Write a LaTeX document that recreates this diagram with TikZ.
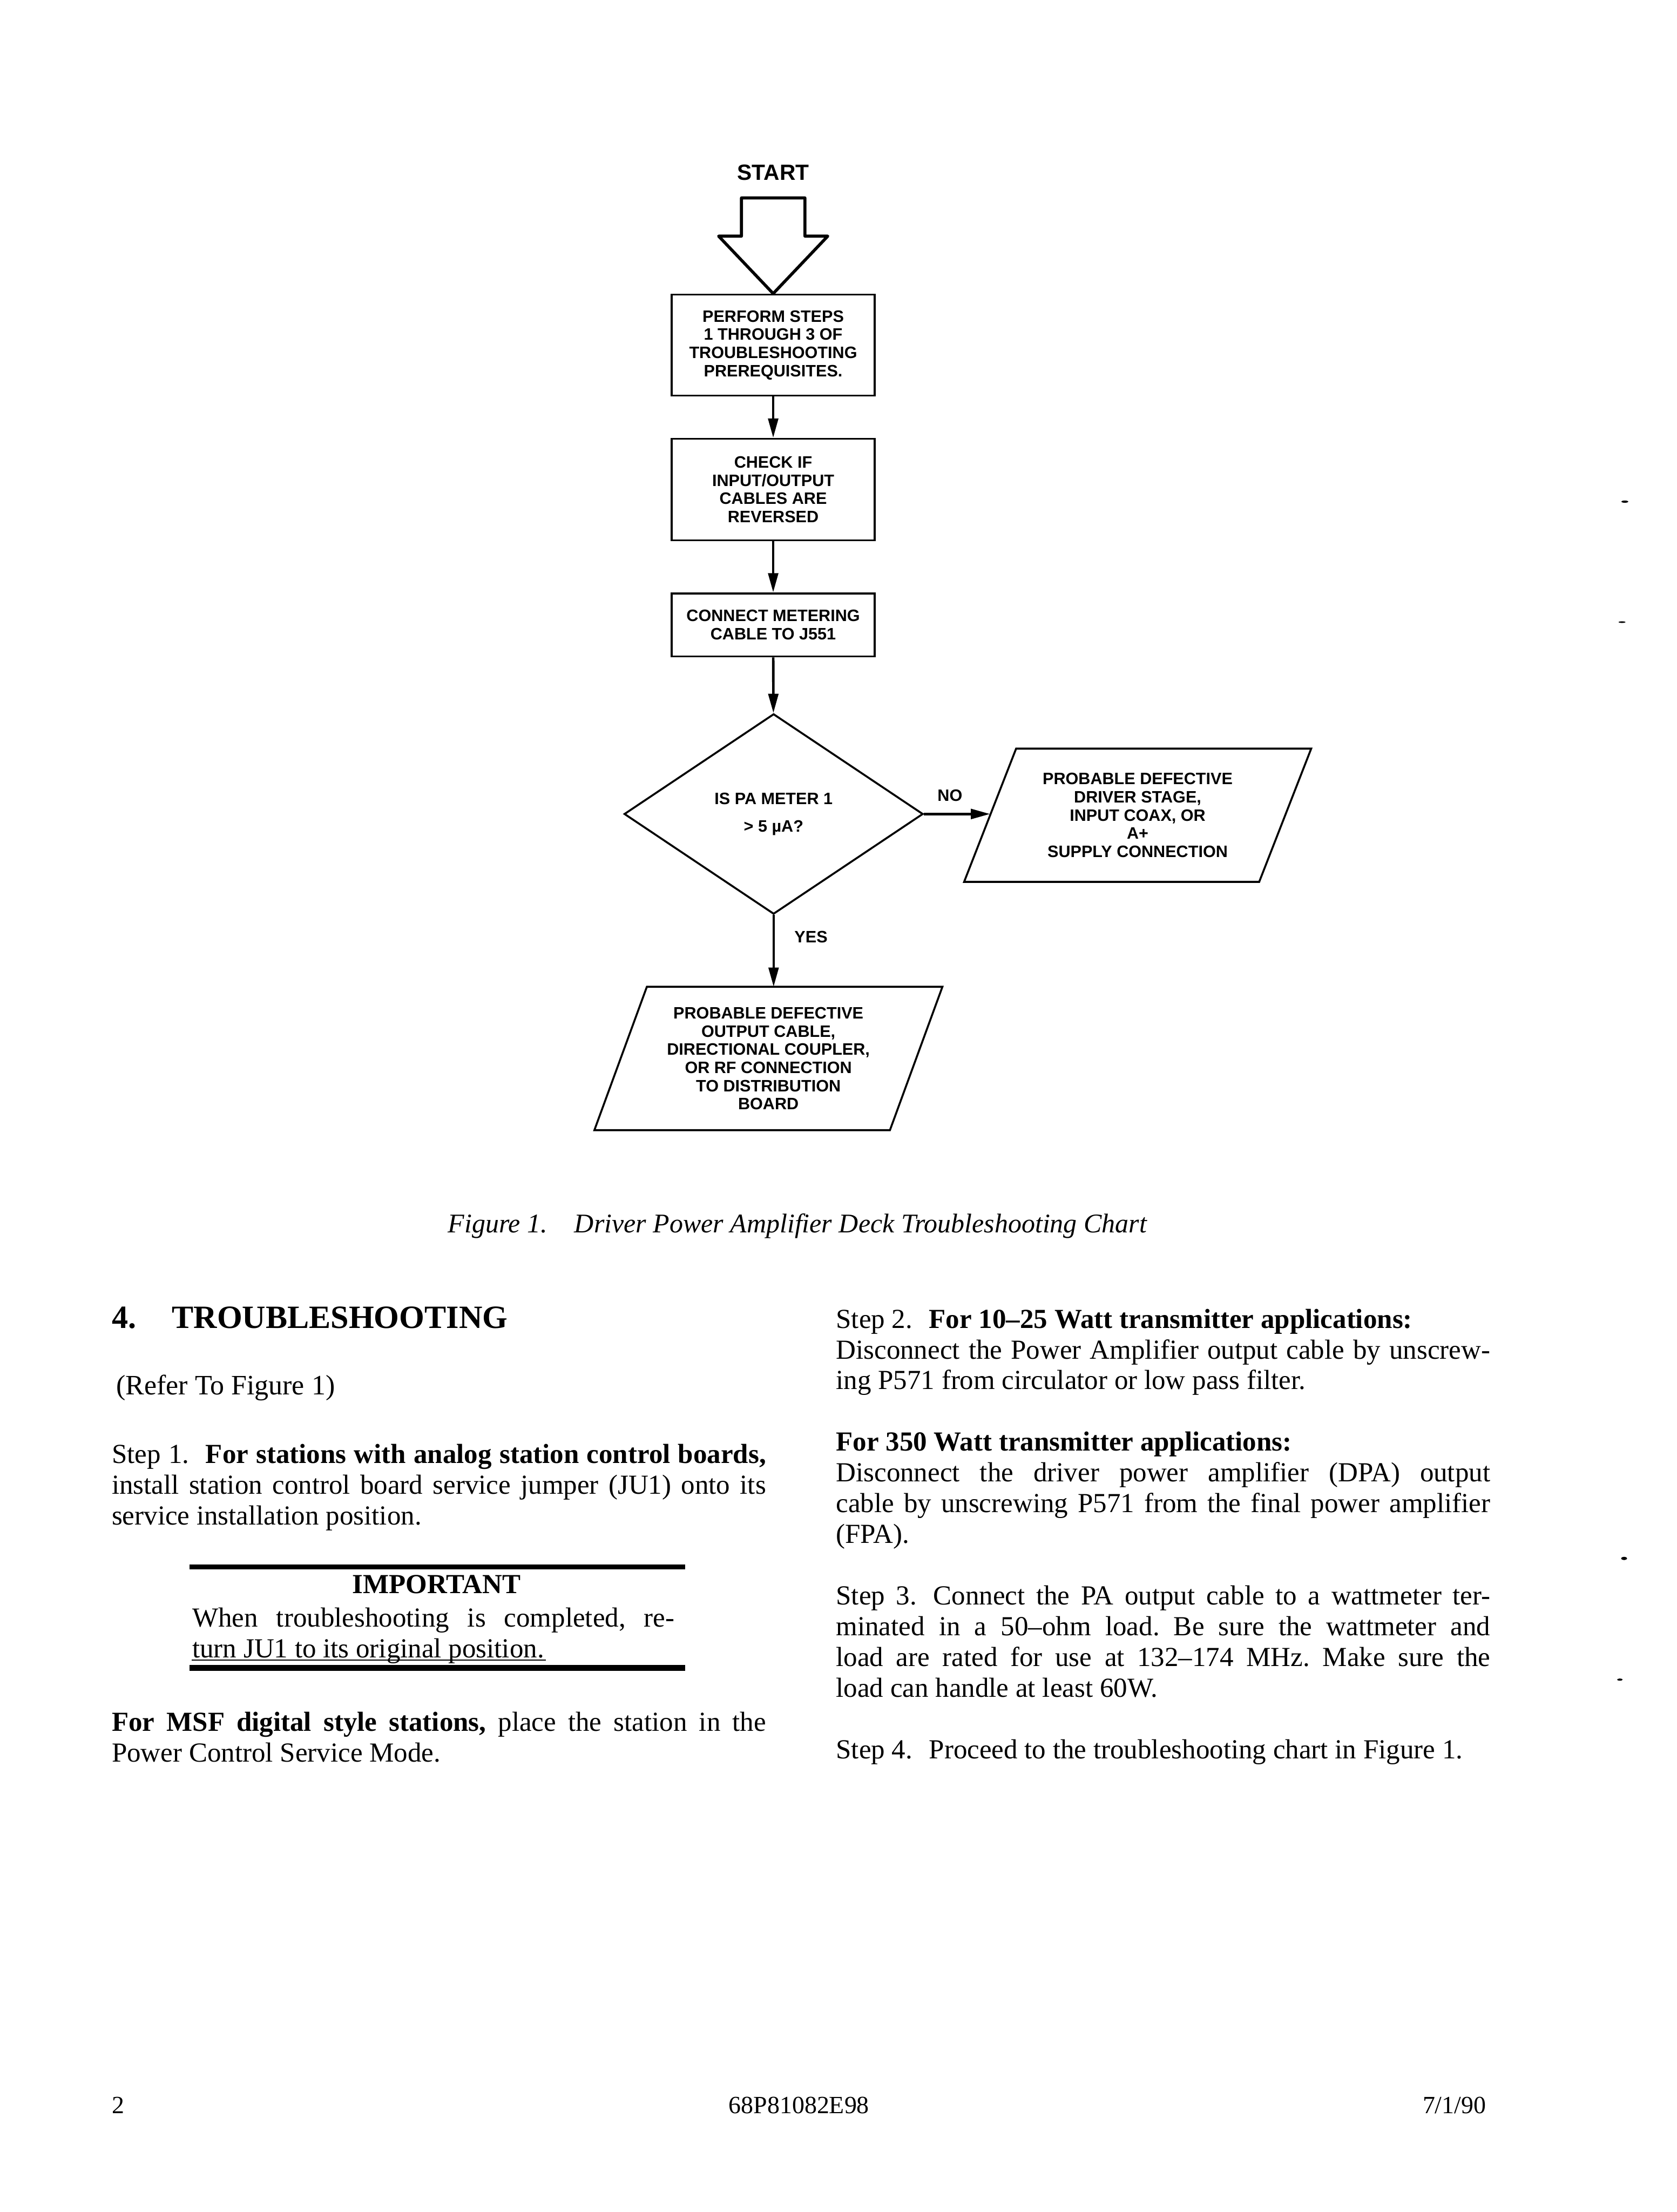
\documentclass[tikz,border=0pt]{standalone}
\usepackage{fontspec}
\setmainfont{Liberation Serif}
\setsansfont{Liberation Sans}
\usetikzlibrary{arrows.meta}
\usetikzlibrary{shapes.geometric}
\tolerance=9999
\hbadness=10000
\hyphenpenalty=10000
\frenchspacing

\begin{document}
\begin{tikzpicture}[x=0.018cm, y=-0.018cm,
    chartfont/.style={font=\sffamily\bfseries\fontsize{6}{6.6}\selectfont},
    chartbox/.style={chartfont, draw, line width=0.7pt, minimum width=2.592cm, inner sep=0pt, align=center},
    slantbox/.style={chartfont, inner sep=0pt, align=center},
    flowline/.style={line width=0.9pt, -{Triangle[length=7pt, width=3.6pt]}},
    bodytext/.style={font=\fontsize{10}{11.17}\selectfont, inner sep=0pt, anchor=north west, align=justify, text width=8.352cm},
    plaintext/.style={font=\fontsize{10.2}{11.17}\selectfont, inner sep=0pt, anchor=base west},
    footertext/.style={font=\fontsize{9}{10.8}\selectfont, inner sep=0pt, anchor=base}]

    % Page area (5028 x 6629 scan, drawn in thumbnail pixels)
    \fill[white] (0,0) rectangle (1189,1568);
    \useasboundingbox (0,0) rectangle (1189,1568);

    % Start label and block arrow
    \node[font=\sffamily\bfseries\fontsize{8}{9.6}\selectfont, inner sep=0pt] (start) at (548.2,122.3) {START};

    % Chart boxes
    \node[chartbox, minimum height=1.289cm] (prereq) at (548.2,244.6) {PERFORM STEPS\\1 THROUGH 3 OF\\TROUBLESHOOTING\\PREREQUISITES.};
    \node[chartbox, minimum height=1.296cm] (check) at (548.2,347) {CHECK IF\\INPUT/OUTPUT\\CABLES ARE\\REVERSED};
    \node[chartbox, minimum height=0.806cm] (connect) at (548.2,443) {CONNECT METERING\\CABLE TO J551};
    \node[chartfont, diamond, draw, line width=0.7pt, minimum width=3.816cm, minimum height=2.556cm, inner sep=0pt, align=center] (decide) at (548.5,577) {IS PA METER 1\\[3.5pt]> 5 µA?};

    % Outcome boxes (parallelograms drawn round plain nodes)
    \node[slantbox, minimum width=3.753cm, minimum height=1.687cm] (drvfault) at (806.6,577.9) {PROBABLE DEFECTIVE\\DRIVER STAGE,\\INPUT COAX, OR\\A+\\SUPPLY CONNECTION};
    \draw[line width=0.7pt] ([xshift=-0.332cm]drvfault.south west) -- ([xshift=0.332cm]drvfault.north west) -- ([xshift=0.332cm]drvfault.north east) -- ([xshift=-0.332cm]drvfault.south east) -- cycle;
    \node[slantbox, minimum width=3.759cm, minimum height=1.816cm] (outfault) at (544.8,750.3) {PROBABLE DEFECTIVE\\OUTPUT CABLE,\\DIRECTIONAL COUPLER,\\OR RF CONNECTION\\TO DISTRIBUTION\\BOARD};
    \draw[line width=0.7pt] ([xshift=-0.335cm]outfault.south west) -- ([xshift=0.335cm]outfault.north west) -- ([xshift=0.335cm]outfault.north east) -- ([xshift=-0.335cm]outfault.south east) -- cycle;

    \draw[line width=1.1pt, line join=round] (525.7,140.3) -- (570.7,140.3) -- (570.7,167.4) -- (586.9,167.4) -- (prereq.north) -- (509.5,167.4) -- (525.7,167.4) -- cycle;

    % Connectors
    \draw[flowline] (prereq) -- (check);
    \draw[flowline] (check) -- (connect);
    \draw[flowline] (connect) -- (decide);
    \draw[flowline] (decide.east) -- (drvfault.west |- decide.east);
    \draw[flowline] (decide.south) -- (decide.south |- outfault.north);
    \node[chartfont, inner sep=0pt] (nolabel) at (673.5,563.9) {NO};
    \node[chartfont, inner sep=0pt] (yeslabel) at (575,664.3) {YES};

    % Caption
    \node[font=\itshape\fontsize{9.8}{12}\selectfont, inner sep=0pt, anchor=base west] (caption) at (317.3,873.7) {Figure 1.\quad Driver Power Amplifier Deck Troubleshooting Chart};

    % Left column
    \node[font=\bfseries\fontsize{11.8}{14}\selectfont, inner sep=0pt, anchor=base west] (heading) at (78.9,941.5) {4.\hspace{13pt}TROUBLESHOOTING};
    \node[plaintext] (refer) at (82,988.7) {(Refer To Figure 1)};
    \node[bodytext] (stepone) at (78.9,1021.7) {\strut Step 1.\hspace{0.6em}\textbf{For stations with analog station control boards,}\linebreak install station control board service jumper (JU1) onto its\linebreak service installation position.};

    % Important note between two heavy rules
    \draw[line width=1.9pt] (134.3,1110.7) -- (485.6,1110.7);
    \node[font=\bfseries\fontsize{10}{11.17}\selectfont, inner sep=0pt, anchor=base] (important) at (309.5,1129.5) {IMPORTANT};
    \node[bodytext, text width=6.156cm] (note) at (136,1137.6) {\strut When troubleshooting is completed, re-\linebreak turn JU1 to its original position.};
    \draw[line width=0.4pt] (136,1176.6) -- (387,1176.6);
    \draw[line width=2.2pt] (134.3,1182.3) -- (485.6,1182.3);

    \node[bodytext] (msf) at (78.9,1211.5) {\strut\textbf{For MSF digital style stations,} place the station in the\linebreak Power Control Service Mode.};

    % Right column
    \node[bodytext] (steps) at (592.4,925.7) {\strut Step 2.\hspace{0.6em}\textbf{For 10--25 Watt transmitter applications:}\\
        Disconnect the Power Amplifier output cable by unscrew-\linebreak ing P571 from circulator or low pass filter.\\[\baselineskip]
        \textbf{For 350 Watt transmitter applications:}\\
        Disconnect the driver power amplifier (DPA) output\linebreak cable by unscrewing P571 from the final power amplifier\linebreak (FPA).\\[\baselineskip]
        Step 3.\hspace{0.6em}Connect the PA output cable to a wattmeter ter-\linebreak minated in a 50--ohm load. Be sure the wattmeter and\linebreak load are rated for use at 132--174 MHz. Make sure the\linebreak load can handle at least 60W.\\[\baselineskip]
        Step 4.\hspace{0.6em}Proceed to the troubleshooting chart in Figure 1.};

    % Footer
    \node[footertext, anchor=base west] (pagenum) at (78.9,1498) {2};
    \node[footertext] (docnum) at (566.5,1498) {68P81082E98};
    \node[footertext, anchor=base east] (docdate) at (1054,1498) {7/1/90};

    % Specks along the right edge of the scan
    \fill (1152,355.6) ellipse [x radius=1.3pt, y radius=0.4pt];
    \fill (1150,441) ellipse [x radius=1.3pt, y radius=0.3pt];
    \fill (1151.5,1104.7) ellipse [x radius=1.1pt, y radius=0.6pt];
    \fill (1148.5,1190.6) ellipse [x radius=1pt, y radius=0.4pt];
\end{tikzpicture}
\end{document}
